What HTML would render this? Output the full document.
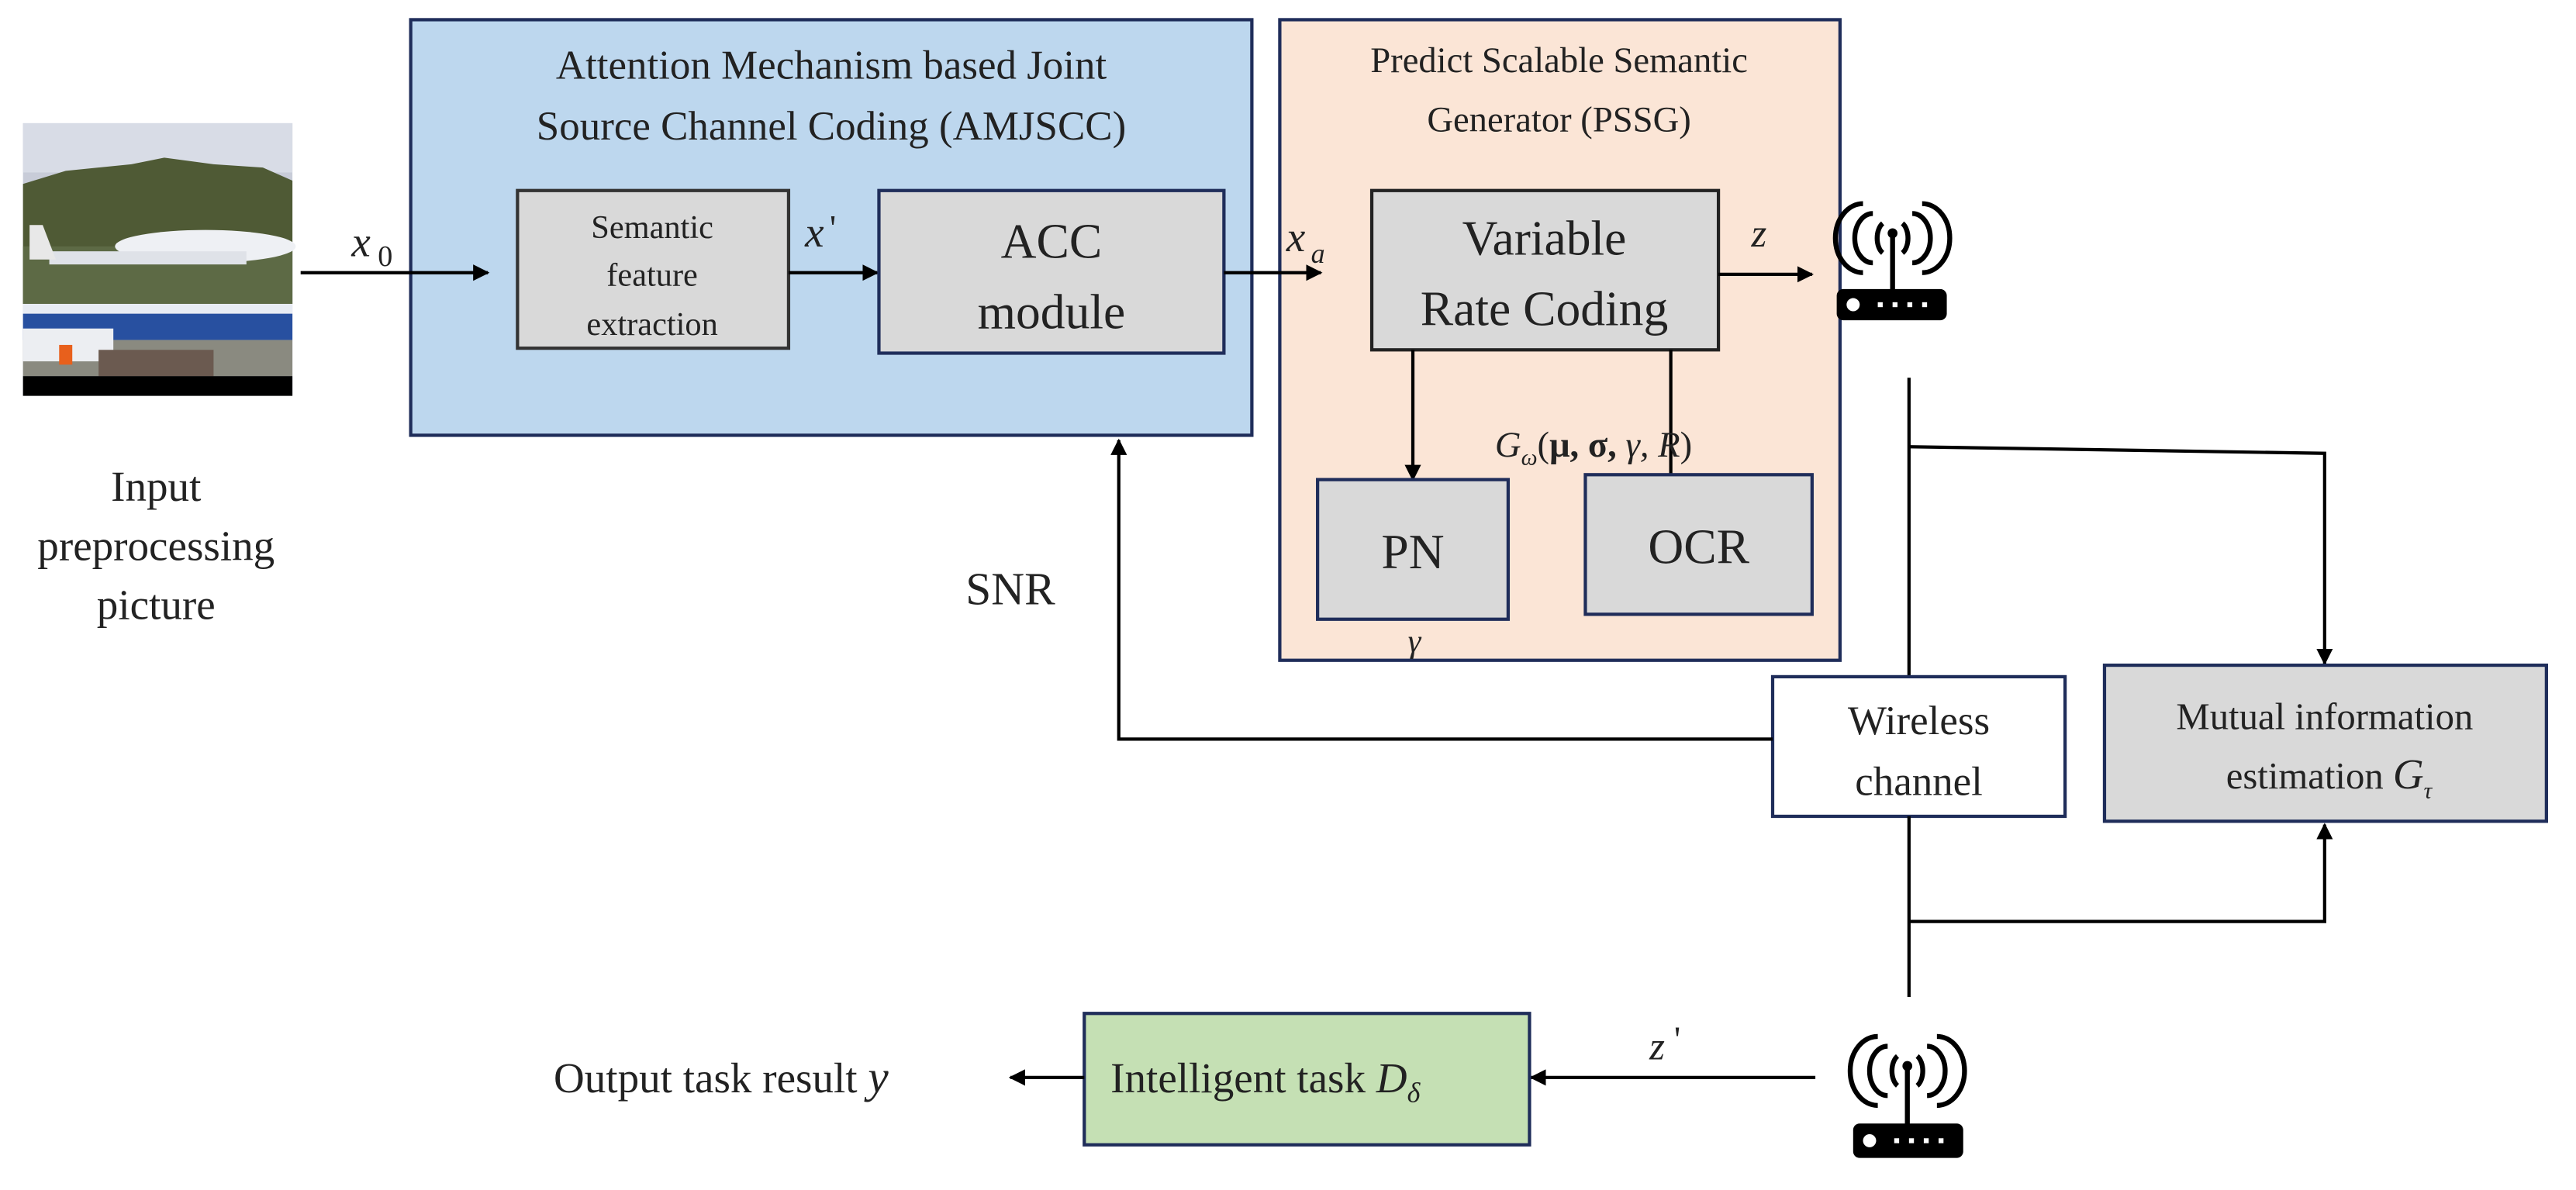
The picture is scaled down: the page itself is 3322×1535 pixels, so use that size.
<!DOCTYPE html>
<html><head><meta charset="utf-8"><style>
html,body{margin:0;padding:0;background:#fff;}
svg{display:block;}
text{font-family:"Liberation Serif",serif;fill:#222;}
</style></head><body>
<svg width="3322" height="1535" viewBox="0 0 1568 724.5" preserveAspectRatio="none" xmlns="http://www.w3.org/2000/svg">
<defs>
<marker id="ar" markerWidth="10" markerHeight="10" refX="9" refY="5" orient="auto" markerUnits="userSpaceOnUse">
<path d="M0,0 L10,5 L0,10 z" fill="#000"/></marker>
</defs>
<!-- photo -->
<rect x="14" y="75" width="164" height="166" fill="#c8ccd8"/>
<rect x="14" y="75" width="164" height="30" fill="#d8dce6"/>
<path d="M14,112 L40,104 L80,100 L100,96 L130,100 L160,102 L178,110 L178,185 L14,185 z" fill="#4f5a35"/>
<rect x="14" y="150" width="164" height="35" fill="#5d6a45"/>
<ellipse cx="125" cy="150" rx="55" ry="10" fill="#eef0f4"/>
<rect x="30" y="153" width="120" height="8" fill="#dfe2e8"/>
<path d="M18,137 L26,137 L34,158 L18,158 z" fill="#e8e8e8"/>
<rect x="14" y="185" width="164" height="6" fill="#e8ecf4"/>
<rect x="14" y="191" width="164" height="16" fill="#2850a0"/>
<rect x="14" y="207" width="164" height="22" fill="#8a8a80"/>
<rect x="14" y="200" width="55" height="20" fill="#eceef2"/>
<rect x="36" y="210" width="8" height="12" fill="#e8601c"/>
<rect x="60" y="213" width="70" height="16" fill="#6b5a50"/>
<rect x="14" y="229" width="164" height="12" fill="#000"/>
<text x="95" y="305" font-size="26" text-anchor="middle">Input</text>
<text x="95" y="341" font-size="26" text-anchor="middle">preprocessing</text>
<text x="95" y="377" font-size="26" text-anchor="middle">picture</text>
<text x="214" y="156" font-size="26" font-style="italic">x</text><text x="230" y="162" font-size="18">0</text>
<!-- AMJSCC -->
<rect x="250" y="12" width="512" height="253" fill="#bdd7ee" stroke="#1f2d5a" stroke-width="2"/>
<text x="506" y="48" font-size="25" text-anchor="middle">Attention Mechanism based Joint</text>
<text x="506" y="85" font-size="25" text-anchor="middle">Source Channel Coding (AMJSCC)</text>
<rect x="315" y="116" width="165" height="96" fill="#d9d9d9" stroke="#333" stroke-width="2"/>
<text x="397" y="145" font-size="20" text-anchor="middle">Semantic</text>
<text x="397" y="174" font-size="20" text-anchor="middle">feature</text>
<text x="397" y="204" font-size="20" text-anchor="middle">extraction</text>
<text x="490" y="150" font-size="26" font-style="italic">x</text><text x="505" y="146" font-size="22">'</text>
<line x1="480" y1="166" x2="534" y2="166" stroke="#000" stroke-width="2" marker-end="url(#ar)"/>
<rect x="535" y="116" width="210" height="99" fill="#d9d9d9" stroke="#1f2d5a" stroke-width="2"/>
<text x="640" y="157" font-size="30" text-anchor="middle">ACC</text>
<text x="640" y="200" font-size="30" text-anchor="middle">module</text>
<!-- PSSG -->
<rect x="779" y="12" width="341" height="390" fill="#fbe5d6" stroke="#1f2d5a" stroke-width="2"/>
<text x="949" y="44" font-size="22" text-anchor="middle">Predict Scalable Semantic</text>
<text x="949" y="80" font-size="22" text-anchor="middle">Generator (PSSG)</text>
<text x="783" y="153" font-size="26" font-style="italic">x</text><text x="798" y="160" font-size="17" font-style="italic">a</text>
<rect x="835" y="116" width="211" height="97" fill="#d9d9d9" stroke="#222" stroke-width="2"/>
<text x="940" y="155" font-size="30" text-anchor="middle">Variable</text>
<text x="940" y="198" font-size="30" text-anchor="middle">Rate Coding</text>
<text x="1066" y="150" font-size="24" font-style="italic">z</text>
<line x1="1046" y1="167" x2="1103" y2="167" stroke="#000" stroke-width="2" marker-end="url(#ar)"/>
<line x1="860" y1="213" x2="860" y2="292" stroke="#000" stroke-width="2" marker-end="url(#ar)"/>
<text x="803" y="333" font-size="22" font-style="italic" font-weight="bold">R</text>
<line x1="1017" y1="213" x2="1017" y2="290" stroke="#000" stroke-width="2"/>
<text x="910" y="278" font-size="22" font-style="italic">G<tspan font-size="14" dy="5">ω</tspan><tspan dy="-5" font-style="normal">(</tspan><tspan font-style="normal" font-weight="bold">μ, σ,</tspan> γ, R<tspan font-style="normal">)</tspan></text>
<rect x="802" y="292" width="116" height="85" fill="#d9d9d9" stroke="#1f2d5a" stroke-width="2"/>
<text x="860" y="346" font-size="30" text-anchor="middle">PN</text>
<rect x="965" y="289" width="138" height="85" fill="#d9d9d9" stroke="#1f2d5a" stroke-width="2"/>
<text x="1034" y="343" font-size="30" text-anchor="middle">OCR</text>
<text x="857" y="397" font-size="20" font-style="italic">γ</text>
<line x1="183" y1="166" x2="297" y2="166" stroke="#000" stroke-width="2" marker-end="url(#ar)"/>
<line x1="745" y1="166" x2="804" y2="166" stroke="#000" stroke-width="2" marker-end="url(#ar)"/>
<!-- antenna top -->
<g stroke="#000" fill="none" stroke-width="3">
<path d="M1146,136 a6,10 0 0 0 0,18"/><path d="M1140,130 a11,15 0 0 0 0,30"/><path d="M1134,124 a16,20 0 0 0 0,42"/>
<path d="M1158,136 a6,10 0 0 1 0,18"/><path d="M1164,130 a11,15 0 0 1 0,30"/><path d="M1170,124 a16,20 0 0 1 0,42"/>
<line x1="1152" y1="142" x2="1152" y2="180"/>
</g>
<circle cx="1152" cy="142" r="3" fill="#000"/>
<rect x="1118" y="176" width="67" height="19" rx="4" fill="#000"/>
<circle cx="1128" cy="185.5" r="4" fill="#fff"/>
<g fill="#fff"><rect x="1143" y="184" width="3" height="3"/><rect x="1152" y="184" width="3" height="3"/><rect x="1161" y="184" width="3" height="3"/><rect x="1170" y="184" width="3" height="3"/></g>
<line x1="1162" y1="230" x2="1162" y2="412" stroke="#000" stroke-width="2"/>
<polyline points="1162,272 1415,276 1415,404" fill="none" stroke="#000" stroke-width="2" marker-end="url(#ar)"/>
<rect x="1079" y="412" width="178" height="85" fill="#fff" stroke="#1f2d5a" stroke-width="2"/>
<text x="1168" y="447" font-size="25" text-anchor="middle">Wireless</text>
<text x="1168" y="484" font-size="25" text-anchor="middle">channel</text>
<rect x="1281" y="405" width="269" height="95" fill="#d9d9d9" stroke="#1f2d5a" stroke-width="2"/>
<text x="1415" y="444" font-size="23" text-anchor="middle">Mutual information</text>
<text x="1355" y="480" font-size="23">estimation <tspan font-style="italic" font-size="26">G</tspan><tspan font-size="14" font-style="italic" dy="6">τ</tspan></text>
<polyline points="1079,450 681,450 681,268" fill="none" stroke="#000" stroke-width="2" marker-end="url(#ar)"/>
<text x="615" y="368" font-size="28" text-anchor="middle">SNR</text>
<line x1="1162" y1="497" x2="1162" y2="607" stroke="#000" stroke-width="2"/>
<polyline points="1162,561 1415,561 1415,502" fill="none" stroke="#000" stroke-width="2" marker-end="url(#ar)"/>
<!-- antenna bottom -->
<g stroke="#000" fill="none" stroke-width="3">
<path d="M1155,643 a6,10 0 0 0 0,18"/><path d="M1149,637 a11,15 0 0 0 0,30"/><path d="M1143,631 a16,20 0 0 0 0,42"/>
<path d="M1167,643 a6,10 0 0 1 0,18"/><path d="M1173,637 a11,15 0 0 1 0,30"/><path d="M1179,631 a16,20 0 0 1 0,42"/>
<line x1="1161" y1="649" x2="1161" y2="687"/>
</g>
<circle cx="1161" cy="649" r="3" fill="#000"/>
<rect x="1128" y="684" width="67" height="21" rx="4" fill="#000"/>
<circle cx="1138" cy="694.5" r="4" fill="#fff"/>
<g fill="#fff"><rect x="1153" y="693" width="3" height="3"/><rect x="1162" y="693" width="3" height="3"/><rect x="1171" y="693" width="3" height="3"/><rect x="1180" y="693" width="3" height="3"/></g>
<line x1="1105" y1="656" x2="932" y2="656" stroke="#000" stroke-width="2" marker-end="url(#ar)"/>
<text x="1004" y="645" font-size="24" font-style="italic">z</text><text x="1019" y="640" font-size="22">'</text>
<rect x="660" y="617" width="271" height="80" fill="#c5e0b4" stroke="#1f2d5a" stroke-width="2"/>
<text x="676" y="665" font-size="26">Intelligent task <tspan font-style="italic">D</tspan><tspan font-style="italic" font-size="17" dy="6">δ</tspan></text>
<line x1="660" y1="656" x2="615" y2="656" stroke="#000" stroke-width="2" marker-end="url(#ar)"/>
<text x="337" y="665" font-size="26">Output task result <tspan font-style="italic" font-size="28">y</tspan></text>
</svg>
</body></html>
